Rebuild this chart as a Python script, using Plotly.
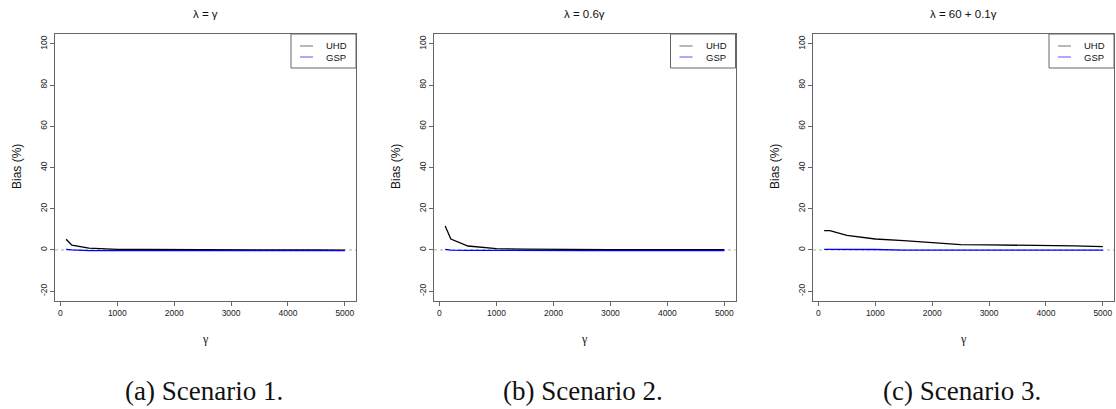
import plotly.graph_objects as go

# gamma grid shared by the three scenarios
gamma = [100, 200, 500, 1000, 1500, 2000, 2500, 3000, 3500, 4000, 4500, 5000]

# relative bias (%) of each estimator
uhd_s1 = [5.2, 2.3, 0.9, 0.3, 0.2, 0.1, 0.0, 0.0, 0.0, -0.05, -0.05, -0.1]
gsp_s1 = [0.3, 0.0, -0.3, -0.3, -0.3, -0.3, -0.3, -0.3, -0.3, -0.3, -0.3, -0.3]
uhd_s2 = [11.6, 5.3, 1.9, 0.6, 0.4, 0.2, 0.15, 0.1, 0.1, 0.1, 0.1, 0.1]
gsp_s2 = [0.3, -0.1, -0.2, -0.3, -0.3, -0.3, -0.3, -0.3, -0.3, -0.3, -0.3, -0.3]
uhd_s3 = [9.4, 9.4, 7.1, 5.3, 4.5, 3.6, 2.6, 2.4, 2.3, 2.1, 2.0, 1.6]
gsp_s3 = [0.3, 0.3, 0.3, 0.2, -0.1, -0.1, -0.1, -0.1, -0.1, -0.1, -0.1, -0.1]

titles = ["\u03bb = \u03b3", "\u03bb = 0.6\u03b3", "\u03bb = 60 + 0.1\u03b3"]
captions = ["(a) Scenario 1.", "(b) Scenario 2.", "(c) Scenario 3."]
x_ticks = [0, 1000, 2000, 3000, 4000, 5000]
y_ticks = [-20, 0, 20, 40, 60, 80, 100]

W, H = 1116, 409
# panel frames in pixels: (left, right)
frames = [(55, 356), (434, 735.5), (813, 1114)]
top_px, bottom_px = 34, 301

series = [(uhd_s1, gsp_s1), (uhd_s2, gsp_s2), (uhd_s3, gsp_s3)]

fig = go.Figure()
shapes, annotations = [], []
frame_col = "#666666"
tick_font = dict(family="Liberation Sans, Arial", size=8.5, color="#222")

for i, ((left, right), (uhd, gsp)) in enumerate(zip(frames, series)):
    sfx = "" if i == 0 else str(i + 1)
    xa, ya = "x" + sfx, "y" + sfx
    fig.add_trace(go.Scatter(x=gamma, y=uhd, mode="lines", name="UHD",
                             line=dict(color="black", width=1.3),
                             xaxis=xa, yaxis=ya, showlegend=False))
    fig.add_trace(go.Scatter(x=gamma, y=gsp, mode="lines", name="GSP",
                             line=dict(color="#0000ff", width=1.3),
                             xaxis=xa, yaxis=ya, showlegend=False))

    dom_x = [left / W, right / W]
    dom_y = [1 - bottom_px / H, 1 - top_px / H]
    fig.layout["xaxis" + sfx] = dict(
        domain=dom_x, range=[-96, 5196], tickvals=x_ticks,
        ticktext=[str(v) for v in x_ticks], ticks="outside", ticklen=4,
        tickcolor=frame_col, showline=True, linecolor=frame_col, linewidth=1,
        mirror=True, showgrid=False, zeroline=False, tickfont=tick_font,
        anchor=ya, fixedrange=True)
    fig.layout["yaxis" + sfx] = dict(
        domain=dom_y, range=[-24.8, 104.8], tickvals=y_ticks,
        ticktext=[str(v) for v in y_ticks], ticks="outside", ticklen=4,
        tickcolor=frame_col, showline=True, linecolor=frame_col, linewidth=1,
        mirror=True, showgrid=False, zeroline=False, tickfont=tick_font,
        tickangle=-90, anchor=xa, fixedrange=True)

    # dotted reference line at zero bias
    shapes.append(dict(type="line", xref=xa + " domain", yref=ya,
                       x0=0, x1=1, y0=0, y1=0,
                       line=dict(color="#aaaaaa", width=1, dash="dot"), layer="below"))

    cx = (left + right) / 2 / W
    annotations.append(dict(text=titles[i], x=cx, y=1 - 14 / H, xref="paper", yref="paper",
                            showarrow=False, xanchor="center", yanchor="middle",
                            font=dict(family="Liberation Sans, Arial", size=11.5, color="#111")))
    annotations.append(dict(text="\u03b3", x=cx, y=1 - 339 / H, xref="paper", yref="paper",
                            showarrow=False, xanchor="center", yanchor="middle",
                            font=dict(family="Liberation Serif, serif", size=12, color="#111")))
    annotations.append(dict(text="Bias (%)", x=(left - 38) / W, y=1 - 167 / H,
                            xref="paper", yref="paper", textangle=-90,
                            showarrow=False, xanchor="center", yanchor="middle",
                            font=dict(family="Liberation Sans, Arial", size=12, color="#111")))
    annotations.append(dict(text=captions[i], x=(left + right) / 2 / W - 2 / W, y=1 - 391 / H,
                            xref="paper", yref="paper",
                            showarrow=False, xanchor="center", yanchor="middle",
                            font=dict(family="Liberation Serif, serif", size=27, color="#111")))

    # legend box in the top-right corner of the panel
    lx0, lx1 = right - 65, right
    ly0, ly1 = top_px, 68
    shapes.append(dict(type="rect", xref="paper", yref="paper",
                       x0=lx0 / W, x1=lx1 / W, y0=1 - ly1 / H, y1=1 - ly0 / H,
                       line=dict(color=frame_col, width=1), fillcolor="white"))
    for name, col, lw, yy in [("UHD", "#888888", 1.2, 46), ("GSP", "#aaaaff", 2, 57)]:
        shapes.append(dict(type="line", xref="paper", yref="paper",
                           x0=(lx0 + 9) / W, x1=(lx0 + 22) / W, y0=1 - yy / H, y1=1 - yy / H,
                           line=dict(color=col, width=lw)))
        annotations.append(dict(text=name, x=(lx0 + 33) / W, y=1 - yy / H,
                                xref="paper", yref="paper", showarrow=False,
                                xanchor="left", yanchor="middle",
                                font=dict(family="Liberation Sans, Arial", size=9.5, color="#111")))

fig.update_layout(width=W, height=H, margin=dict(l=0, r=0, t=0, b=0),
                  paper_bgcolor="white", plot_bgcolor="white",
                  shapes=shapes, annotations=annotations, showlegend=False)

fig.write_html("out.html", config={"displayModeBar": False})
